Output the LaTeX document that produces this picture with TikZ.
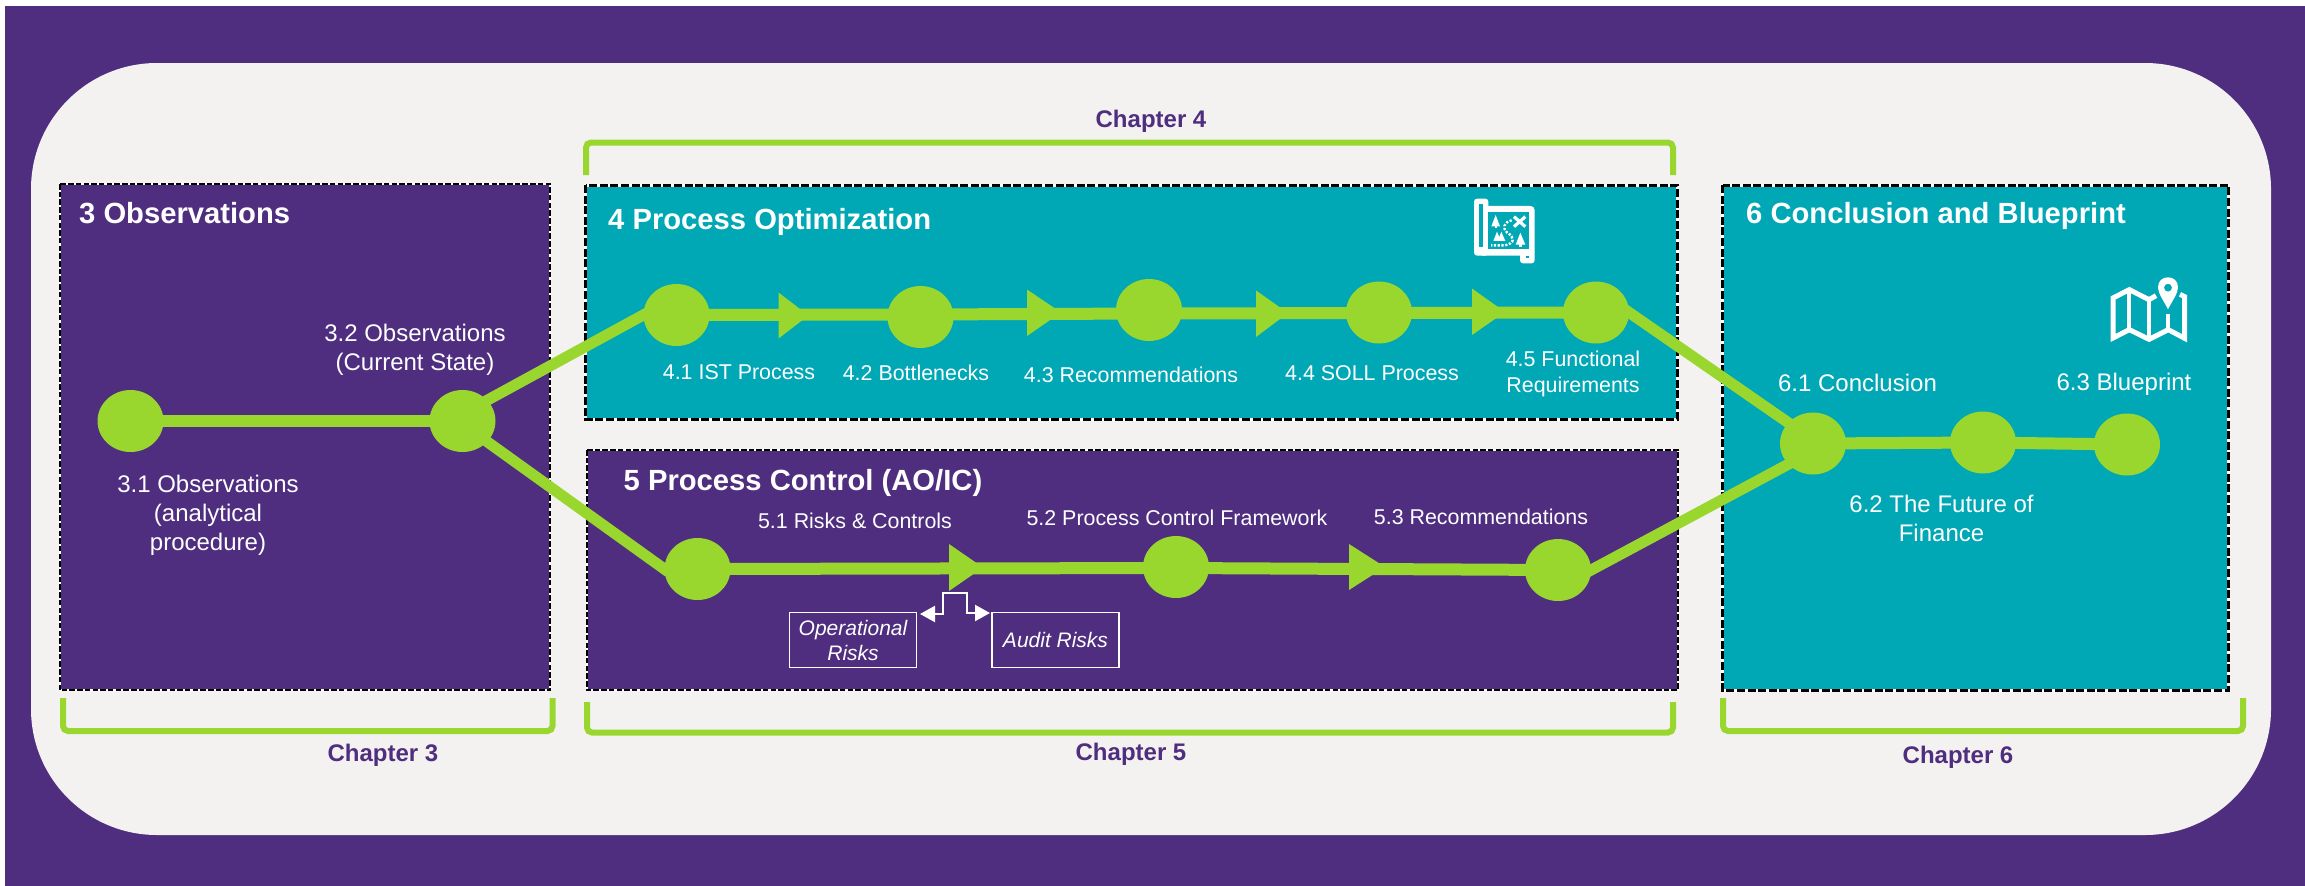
\documentclass[tikz,border=0pt]{standalone}
\usepackage{fontspec}
\setmainfont{Liberation Sans}
\usetikzlibrary{shapes.geometric,arrows.meta}
\definecolor{gtpurple}{HTML}{4F2D7F}
\definecolor{gtteal}{HTML}{00A7B5}
\definecolor{gtgreen}{HTML}{99D72F}
\definecolor{gtpanel}{HTML}{F3F2F1}
\tikzset{
  stepdot/.style={ellipse,fill=gtgreen,minimum width=66pt,minimum height=62pt,inner sep=0pt},
  chain/.style={draw=gtgreen,line width=12pt},
  diag/.style={draw=gtgreen,line width=11pt,shorten <=-5pt,shorten >=-5pt},
  arrowtri/.style={fill=gtgreen},
  lab/.style={text=white,align=center,inner sep=0pt,anchor=base,font=\fontsize{24}{29}\selectfont},
  sublab/.style={text=white,align=center,inner sep=0pt,anchor=base,font=\fontsize{21.4}{26}\selectfont},
  title/.style={text=white,inner sep=0pt,anchor=base west,font=\bfseries\fontsize{29.2}{35}\selectfont},
  chap/.style={text=gtpurple,inner sep=0pt,anchor=base,font=\bfseries\fontsize{24}{29}\selectfont},
  bracket/.style={draw=gtgreen,line width=6pt,rounded corners=5pt},
  riskbox/.style={draw=white,line width=1.3pt,text=white,align=center,inner sep=0pt,minimum width=127pt,minimum height=55pt,font=\itshape\fontsize{21}{25}\selectfont},
  dashthin/.style={draw=black,line width=2pt,dash pattern=on 5.5pt off 2.2pt},
  dashthick/.style={draw=black,line width=3pt,dash pattern=on 8pt off 2.6pt},
  gapthin/.style={draw=white,line width=2pt},
  gapthick/.style={draw=white,line width=3pt},
  iconline/.style={draw=white,line width=5pt,line join=miter},
}
\begin{document}
\begin{tikzpicture}[x=1pt,y=-1pt]
\useasboundingbox (0,0) rectangle (2305,886);
\fill[white] (0,0) rectangle (2305,886);
\fill[gtpurple] (5,6) rectangle (2305,886);
\fill[gtpanel,rounded corners=126pt] (31,63) rectangle (2271,835);

% boxes
\fill[gtpurple] (59.5,184) rectangle (550,690);
\path[gapthin] (59.5,184) rectangle (550,690);
\path[dashthin] (59.5,184) rectangle (550,690);
\fill[gtteal] (585.5,185) rectangle (1677,419);
\path[gapthick] (585.5,185) rectangle (1677,419);
\path[dashthick] (585.5,185) rectangle (1677,419);
\fill[gtpurple] (587,450) rectangle (1678,690);
\path[gapthin] (587,450) rectangle (1678,690);
\path[dashthin] (587,450) rectangle (1678,690);
\fill[gtteal] (1722.5,185) rectangle (2228,690);
\path[gapthick] (1722.5,185) rectangle (2228,690);
\path[dashthick] (1722.5,185) rectangle (2228,690);

% brackets
\path[bracket] (63,698) -- (63,731) -- (552.5,731) -- (552.5,698);
\path[bracket] (586,175) -- (586,142.5) -- (1673,142.5) -- (1673,175);
\path[bracket] (587,702) -- (587,732.5) -- (1673,732.5) -- (1673,702);
\path[bracket] (1723,698) -- (1723,731) -- (2243,731) -- (2243,698);

% titles
\node[title] (t3) at (79,223) {3 Observations};
\node[title] (t4) at (608,229) {4 Process Optimization};
\node[title] (t5) at (623.5,490) {5 Process Control (AO/IC)};
\node[title] (t6) at (1746,223) {6 Conclusion and Blueprint};

% chapter labels
\node[chap] (c3) at (383,761) {Chapter 3};
\node[chap] (c4) at (1151,127) {Chapter 4};
\node[chap] (c5) at (1131,760) {Chapter 5};
\node[chap] (c6) at (1958,763) {Chapter 6};

% step dots
\node[stepdot] (n31) at (130.5,421) {};
\node[stepdot] (n32) at (462.5,421) {};
\node[stepdot] (n41) at (676.5,315) {};
\node[stepdot] (n42) at (920.5,317) {};
\node[stepdot] (n43) at (1149,310) {};
\node[stepdot] (n44) at (1379,312.5) {};
\node[stepdot] (n45) at (1596,312.5) {};
\node[stepdot] (n51) at (697.5,569) {};
\node[stepdot] (n52) at (1176,567) {};
\node[stepdot] (n53) at (1558,570) {};
\node[stepdot] (n61) at (1813,443.5) {};
\node[stepdot] (n62) at (1983,442.5) {};
\node[stepdot] (n63) at (2127,444.5) {};

% points where the straight runs pass through the dots
\coordinate (j42) at (920.5,314.5);
\coordinate (j43) at (1149,313.5);
\coordinate (j44) at (1379,313);
\coordinate (j52) at (1176,568);

% connectors
\path[chain] (n31.center) -- (n32.center);
\path[diag] (n32.40) -- (n41.west);
\path[diag] (n32.-40) -- (n51.west);
\path[chain] (n41.center) -- (j42);
\path[chain] (j42) -- (j43);
\path[chain] (j43) -- (j44);
\path[chain] (j44) -- (n45.center);
\path[chain] (n51.center) -- (j52);
\path[chain] (j52) -- (n53.center);
\path[diag] (n45.east) -- (n61.140);
\path[diag] (n53.east) -- (n61.-140);
\path[chain] (n61.center) -- (n62.center);
\path[chain] (n62.center) -- (n63.center);

% arrow triangles on the connectors
\fill[arrowtri] (778.5,292.5) -- (808.5,315.5) -- (778.5,338.5) -- cycle;
\fill[arrowtri] (1027,289.5) -- (1061,312.5) -- (1027,336) -- cycle;
\fill[arrowtri] (1256,290.5) -- (1288,313) -- (1256,337) -- cycle;
\fill[arrowtri] (1472,288.5) -- (1505,312) -- (1472,335) -- cycle;
\fill[arrowtri] (949,544) -- (983,567.5) -- (949,591) -- cycle;
\fill[arrowtri] (1349,544) -- (1385,567) -- (1349,590) -- cycle;

% step labels
\node[lab] (l32) at (415,370) {3.2 Observations\\(Current State)};
\node[lab] (l31) at (208,550) {3.1 Observations\\(analytical\\procedure)};
\node[sublab] (l41) at (739,379) {4.1 IST Process};
\node[sublab] (l42) at (916,380) {4.2 Bottlenecks};
\node[sublab] (l43) at (1131,382) {4.3 Recommendations};
\node[sublab] (l44) at (1372,380) {4.4 SOLL Process};
\node[sublab] (l45) at (1573,392) {4.5 Functional\\Requirements};
\node[sublab] (l51) at (855,528.5) {5.1 Risks \& Controls};
\node[sublab] (l52) at (1177,525) {5.2 Process Control Framework};
\node[sublab] (l53) at (1481,524) {5.3 Recommendations};
\node[lab] (l61) at (1857.5,391) {6.1 Conclusion};
\node[lab] (l62) at (1941.5,541) {6.2 The Future of\\Finance};
\node[lab] (l63) at (2124,390) {6.3 Blueprint};

% risk boxes
\node[riskbox] (op) at (853,640) {Operational\\Risks};
\node[riskbox] (au) at (1055.5,640) {Audit Risks};
\coordinate (opend) at (920,614);
\coordinate (auend) at (990,613);
\draw[white,line width=2.2pt,{Triangle[length=15pt,width=16pt]}-{Triangle[length=15pt,width=16pt]}]
  (opend) -- (943,614) -- (943,593) -- (967,593) -- (967,613) -- (auend);

% scroll map icon
\begin{scope}[shift={(1400,160)},x=0.3333pt,y=-0.3333pt]
  \fill[white,rounded corners=3pt] (222,116) rectangle (265,287);
  \fill[white,rounded corners=4pt] (236,138) rectangle (404,287);
  \fill[white,rounded corners=3pt] (360,270) rectangle (404,310);
  \fill[gtteal] (237,131) rectangle (250,262);
  \fill[gtteal] (265,155) rectangle (388,268);
  \fill[gtteal] (377,288) rectangle (387,293);
  % trees
  \fill[white] (287,165) -- (300,199) -- (274,199) -- cycle;
  \fill[white] (284,195) rectangle (290,205);
  \fill[white] (291,215) -- (303,243) -- (280,243) -- cycle;
  \fill[white] (304,215) -- (316,243) -- (293,243) -- cycle;
  \fill[white] (361,218) -- (376,254) -- (347,254) -- cycle;
  \fill[white] (358,250) rectangle (365,262);
  % cross
  \draw[white,line width=3.2pt] (342,170) -- (376,200) (376,170) -- (342,200);
  % dotted track
  \draw[white,line width=2.4pt,dash pattern=on 2.2pt off 1.6pt] (335,181) .. controls (312,186) and (306,205) .. (322,218) .. controls (345,232) and (345,250) .. (315,256) -- (273,256);
\end{scope}

% folded map icon
\begin{scope}[shift={(2050,250)},x=0.3333pt,y=-0.3333pt]
  \draw[iconline] (318,137) -- (297,149) -- (238,119) -- (189,144) -- (189,264) -- (238,239) -- (297,268) -- (355,239) -- (404,265) -- (404,140) -- (390,133);
  \draw[iconline,line width=4pt] (238,119) -- (238,239) (297,149) -- (297,268) (355,239) -- (355,192);
  \fill[white,even odd rule] (354,178) .. controls (340,150) and (324,130) .. (324,112) .. controls (324,92) and (338,82) .. (354,82) .. controls (370,82) and (384,92) .. (384,112) .. controls (384,130) and (368,150) .. (354,178) -- cycle (366,113) arc[start angle=0,end angle=360,radius=12];
\end{scope}
\end{tikzpicture}
\end{document}
